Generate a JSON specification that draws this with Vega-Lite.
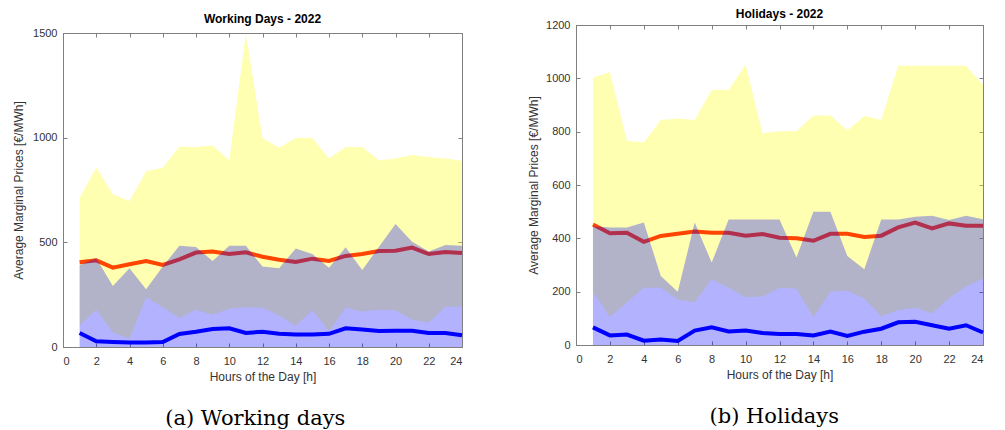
{
  "$schema": "https://vega.github.io/schema/vega-lite/v6.json",
  "padding": {"top": 7, "left": 12, "right": 5, "bottom": 0},
  "background": "white",
  "spacing": 56,
  "config": {
    "font": "Liberation Sans",
    "view": {"stroke": "#808080", "strokeWidth": 1},
    "axis": {"zindex": 1, "grid": false, "domain": true, "ticks": true, "domainColor": "#808080", "domainWidth": 1, "tickColor": "#808080", "tickWidth": 1, "tickSize": -4, "labelPadding": 10, "labelFontSize": 11, "labelColor": "#333333", "titleFontSize": 12, "titleFontWeight": "normal", "titleColor": "#333333", "labelFont": "Liberation Sans", "titleFont": "Liberation Sans", "format": "d"},
    "title": {"font": "Liberation Sans", "fontSize": 12, "fontWeight": "bold", "color": "#000000", "offset": -2}
  },
  "datasets": {
    "work": [
      {"h": 1, "ymax": 714, "bhi": 392, "ylo": 103, "mean": 405, "low": 67},
      {"h": 2, "ymax": 857, "bhi": 424, "ylo": 178, "mean": 414, "low": 27},
      {"h": 3, "ymax": 730, "bhi": 292, "ylo": 70, "mean": 379, "low": 24},
      {"h": 4, "ymax": 697, "bhi": 376, "ylo": 40, "mean": 395, "low": 21},
      {"h": 5, "ymax": 840, "bhi": 276, "ylo": 238, "mean": 411, "low": 21},
      {"h": 6, "ymax": 856, "bhi": 384, "ylo": 190, "mean": 392, "low": 24},
      {"h": 7, "ymax": 957, "bhi": 484, "ylo": 138, "mean": 419, "low": 62},
      {"h": 8, "ymax": 956, "bhi": 478, "ylo": 178, "mean": 451, "low": 73},
      {"h": 9, "ymax": 963, "bhi": 411, "ylo": 154, "mean": 456, "low": 86},
      {"h": 10, "ymax": 892, "bhi": 484, "ylo": 183, "mean": 444, "low": 89},
      {"h": 11, "ymax": 1495, "bhi": 484, "ylo": 190, "mean": 452, "low": 67},
      {"h": 12, "ymax": 998, "bhi": 384, "ylo": 188, "mean": 431, "low": 73},
      {"h": 13, "ymax": 952, "bhi": 376, "ylo": 151, "mean": 417, "low": 63},
      {"h": 14, "ymax": 998, "bhi": 471, "ylo": 102, "mean": 406, "low": 60},
      {"h": 15, "ymax": 998, "bhi": 444, "ylo": 175, "mean": 422, "low": 60},
      {"h": 16, "ymax": 900, "bhi": 379, "ylo": 75, "mean": 411, "low": 63},
      {"h": 17, "ymax": 956, "bhi": 476, "ylo": 189, "mean": 435, "low": 89},
      {"h": 18, "ymax": 956, "bhi": 368, "ylo": 170, "mean": 444, "low": 84},
      {"h": 19, "ymax": 892, "bhi": 478, "ylo": 178, "mean": 459, "low": 76},
      {"h": 20, "ymax": 900, "bhi": 587, "ylo": 175, "mean": 460, "low": 78},
      {"h": 21, "ymax": 917, "bhi": 503, "ylo": 130, "mean": 475, "low": 78},
      {"h": 22, "ymax": 908, "bhi": 456, "ylo": 117, "mean": 444, "low": 67},
      {"h": 23, "ymax": 900, "bhi": 487, "ylo": 192, "mean": 454, "low": 67},
      {"h": 24, "ymax": 890, "bhi": 484, "ylo": 192, "mean": 449, "low": 56}
    ],
    "hol": [
      {"h": 1, "ymax": 1002, "bhi": 445, "ylo": 200, "mean": 452, "low": 66},
      {"h": 2, "ymax": 1024, "bhi": 441, "ylo": 104, "mean": 419, "low": 36},
      {"h": 3, "ymax": 766, "bhi": 441, "ylo": 159, "mean": 421, "low": 39},
      {"h": 4, "ymax": 759, "bhi": 459, "ylo": 215, "mean": 387, "low": 16},
      {"h": 5, "ymax": 844, "bhi": 259, "ylo": 215, "mean": 409, "low": 21},
      {"h": 6, "ymax": 849, "bhi": 200, "ylo": 171, "mean": 417, "low": 15},
      {"h": 7, "ymax": 844, "bhi": 459, "ylo": 160, "mean": 426, "low": 54},
      {"h": 8, "ymax": 956, "bhi": 309, "ylo": 247, "mean": 421, "low": 66},
      {"h": 9, "ymax": 956, "bhi": 471, "ylo": 215, "mean": 421, "low": 51},
      {"h": 10, "ymax": 1052, "bhi": 471, "ylo": 179, "mean": 410, "low": 54},
      {"h": 11, "ymax": 794, "bhi": 471, "ylo": 182, "mean": 416, "low": 45},
      {"h": 12, "ymax": 802, "bhi": 471, "ylo": 215, "mean": 402, "low": 41},
      {"h": 13, "ymax": 802, "bhi": 328, "ylo": 211, "mean": 400, "low": 41},
      {"h": 14, "ymax": 861, "bhi": 500, "ylo": 104, "mean": 391, "low": 36},
      {"h": 15, "ymax": 861, "bhi": 500, "ylo": 200, "mean": 417, "low": 50},
      {"h": 16, "ymax": 805, "bhi": 334, "ylo": 204, "mean": 417, "low": 34},
      {"h": 17, "ymax": 859, "bhi": 284, "ylo": 174, "mean": 405, "low": 50},
      {"h": 18, "ymax": 844, "bhi": 471, "ylo": 108, "mean": 410, "low": 61},
      {"h": 19, "ymax": 1047, "bhi": 471, "ylo": 131, "mean": 441, "low": 85},
      {"h": 20, "ymax": 1047, "bhi": 481, "ylo": 140, "mean": 459, "low": 87},
      {"h": 21, "ymax": 1047, "bhi": 485, "ylo": 119, "mean": 437, "low": 74},
      {"h": 22, "ymax": 1047, "bhi": 469, "ylo": 175, "mean": 456, "low": 61},
      {"h": 23, "ymax": 1047, "bhi": 485, "ylo": 219, "mean": 447, "low": 74},
      {"h": 24, "ymax": 975, "bhi": 472, "ylo": 250, "mean": 447, "low": 47}
    ]
  },
  "hconcat": [
    {
      "title": {"text": "(a) Working days", "orient": "bottom", "anchor": "middle", "font": "DejaVu Serif", "fontSize": 21, "fontWeight": "normal", "color": "#000000", "offset": 25, "dx": 14},
      "spacing": 0,
      "vconcat": [
        {
          "width": 399,
          "height": 1,
          "view": {"stroke": null},
          "title": {"text": "Working Days - 2022", "offset": -1},
          "data": {"values": []},
          "mark": {"type": "rect"},
          "encoding": {}
        },
        {
          "width": 399,
          "height": 314,
          "data": {"name": "work"},
          "layer": [
            {
              "mark": {"type": "area", "color": "#ffff00", "opacity": 0.3},
              "encoding": {
                "x": {"field": "h", "type": "quantitative", "scale": {"domain": [0, 24], "nice": false}, "axis": {"orient": "bottom", "values": [0,2,4,6,8,10,12,14,16,18,20,22,24], "title": "Hours of the Day [h]", "labelPadding": 12, "titlePadding": 5}},
                "y": {"field": "ymax", "type": "quantitative", "scale": {"domain": [0, 1500], "nice": false}, "axis": {"orient": "left", "values": [0, 500, 1000, 1500], "title": "Average Marginal Prices [€/MWh]", "titlePadding": 7}},
                "y2": {"field": "ylo"}
              }
            },
            {
              "mark": {"type": "line", "color": "#ff4500", "strokeWidth": 4},
              "encoding": {
                "x": {"field": "h", "type": "quantitative", "axis": null},
                "y": {"field": "mean", "type": "quantitative", "axis": null}
              }
            },
            {
              "mark": {"type": "line", "color": "#0000ff", "strokeWidth": 4},
              "encoding": {
                "x": {"field": "h", "type": "quantitative", "axis": null},
                "y": {"field": "low", "type": "quantitative", "axis": null}
              }
            },
            {
              "mark": {"type": "area", "color": "#0000ff", "opacity": 0.3},
              "encoding": {
                "x": {"field": "h", "type": "quantitative", "axis": {"orient": "top", "values": [0,2,4,6,8,10,12,14,16,18,20,22,24], "labels": false, "title": null}},
                "y": {"field": "bhi", "type": "quantitative", "axis": {"orient": "right", "values": [0, 500, 1000, 1500], "labels": false, "title": null}}
              }
            }
          ],
          "resolve": {"axis": {"x": "independent", "y": "independent"}}
        }
      ]
    },
    {
      "title": {"text": "(b) Holidays", "orient": "bottom", "anchor": "middle", "font": "DejaVu Serif", "fontSize": 21, "fontWeight": "normal", "color": "#000000", "offset": 25, "dx": 15},
      "vconcat": [
        {
          "width": 407,
          "height": 320,
          "title": {"text": "Holidays - 2022"},
          "data": {"name": "hol"},
          "layer": [
            {
              "mark": {"type": "area", "color": "#ffff00", "opacity": 0.3},
              "encoding": {
                "x": {"field": "h", "type": "quantitative", "scale": {"domain": [0, 24], "nice": false}, "axis": {"orient": "bottom", "values": [0,2,4,6,8,10,12,14,16,18,20,22,24], "title": "Hours of the Day [h]", "labelPadding": 12, "titlePadding": 5}},
                "y": {"field": "ymax", "type": "quantitative", "scale": {"domain": [0, 1200], "nice": false}, "axis": {"orient": "left", "values": [0, 200, 400, 600, 800, 1000, 1200], "title": "Average Marginal Prices [€/MWh]", "titlePadding": 5}},
                "y2": {"field": "ylo"}
              }
            },
            {
              "mark": {"type": "line", "color": "#ff4500", "strokeWidth": 4},
              "encoding": {
                "x": {"field": "h", "type": "quantitative", "axis": null},
                "y": {"field": "mean", "type": "quantitative", "axis": null}
              }
            },
            {
              "mark": {"type": "line", "color": "#0000ff", "strokeWidth": 4},
              "encoding": {
                "x": {"field": "h", "type": "quantitative", "axis": null},
                "y": {"field": "low", "type": "quantitative", "axis": null}
              }
            },
            {
              "mark": {"type": "area", "color": "#0000ff", "opacity": 0.3},
              "encoding": {
                "x": {"field": "h", "type": "quantitative", "axis": {"orient": "top", "values": [0,2,4,6,8,10,12,14,16,18,20,22,24], "labels": false, "title": null}},
                "y": {"field": "bhi", "type": "quantitative", "axis": {"orient": "right", "values": [0, 200, 400, 600, 800, 1000, 1200], "labels": false, "title": null}}
              }
            }
          ],
          "resolve": {"axis": {"x": "independent", "y": "independent"}}
        }
      ]
    }
  ]
}
